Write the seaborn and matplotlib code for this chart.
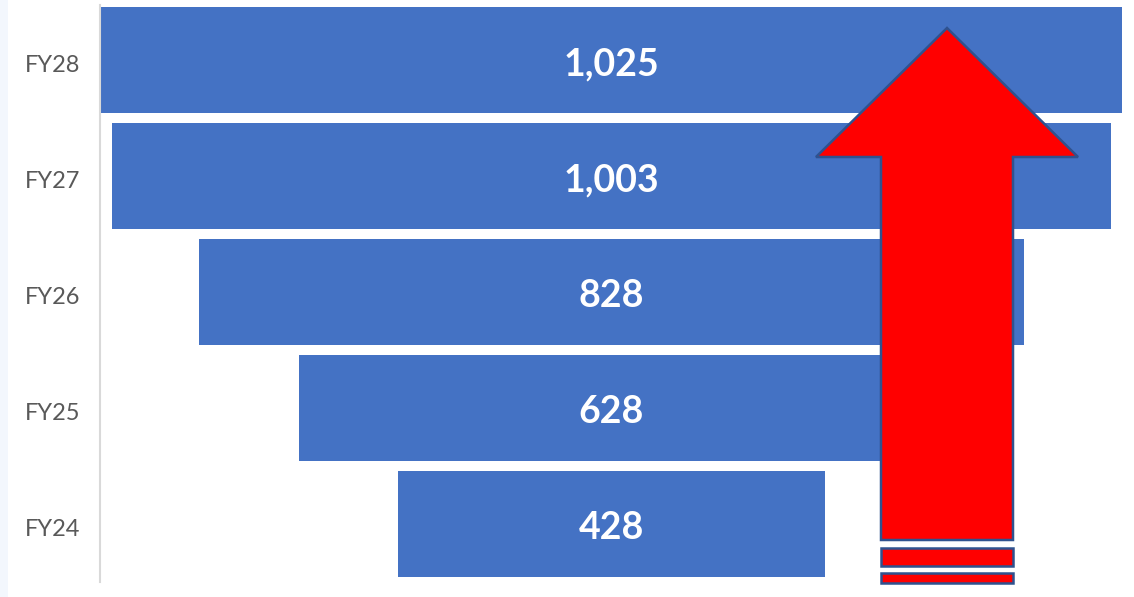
import matplotlib
matplotlib.use("Agg")
import matplotlib.pyplot as plt
import pandas as pd
import seaborn as sns
from matplotlib.patches import Polygon, Rectangle
from matplotlib.transforms import ScaledTranslation

# Funnel data (top to bottom)
years = ["FY28", "FY27", "FY26", "FY25", "FY24"]
values = [1025, 1003, 828, 628, 428]

df = pd.DataFrame({"year": years, "value": values})

# centre of the funnel in data units
center = 513.5
lefts = [center - v / 2 for v in values]

sns.set_theme(style="white")
plt.rcParams["font.family"] = ["Lato", "DejaVu Sans"]

W, H = 1134, 597
fig = plt.figure(figsize=(W / 100, H / 100), dpi=100)
fig.patch.set_facecolor("white")


def px(x, y):
    # pixel position -> figure fraction
    return x / W, 1 - y / H


ax = fig.add_axes([100 / W, 1 - 582 / H, 1026 / W, 577 / H])

sns.barplot(
    data=df, y="year", x="value", order=years, orient="y",
    color="#4472C4", saturation=1, width=0.92, left=lefts,
    linewidth=0, ax=ax,
)

ax.set_xlim(0, 1030)
ax.set_ylim(4.5, -0.474)
ax.set_xlabel("")
ax.set_ylabel("")
ax.set_xticks([])
for s in ["top", "right", "bottom"]:
    ax.spines[s].set_visible(False)
ax.spines["left"].set_color("#D9D9D9")
ax.spines["left"].set_linewidth(1.5)
ax.tick_params(axis="y", length=0, pad=14, labelsize=17, labelcolor="#595959")

# nudge tick labels down a little, like the original
shift = ScaledTranslation(0, -4 / 100, fig.dpi_scale_trans)
for lbl in ax.get_yticklabels():
    lbl.set_transform(lbl.get_transform() + shift)

texts = ax.bar_label(
    ax.containers[0], labels=[f"{v:,}" for v in values], label_type="center",
    color="white", fontsize=27, fontweight="bold",
)
for t in texts:
    t.xyann = (0, -3)

# light strip at the left edge
fig.patches.append(Rectangle(px(0, 597), 8 / W, 1, transform=fig.transFigure,
                             facecolor="#F3F7FD", edgecolor="none", zorder=0))

# big red arrow
arrow_px = [(947, 28), (1078, 157), (1013, 157), (1013, 540),
            (881, 540), (881, 157), (816, 157)]
fig.patches.append(Polygon([px(x, y) for x, y in arrow_px], closed=True,
                           transform=fig.transFigure, facecolor="#FF0000",
                           edgecolor="#2F528F", linewidth=1.8, zorder=5))
for y0, y1 in [(548, 566), (573, 583)]:
    x0, yb = px(881, y1)
    fig.patches.append(Rectangle((x0, yb), 132 / W, (y1 - y0) / H,
                                 transform=fig.transFigure, facecolor="#FF0000",
                                 edgecolor="#2F528F", linewidth=1.8, zorder=5))

fig.savefig("out.png", dpi=100)
